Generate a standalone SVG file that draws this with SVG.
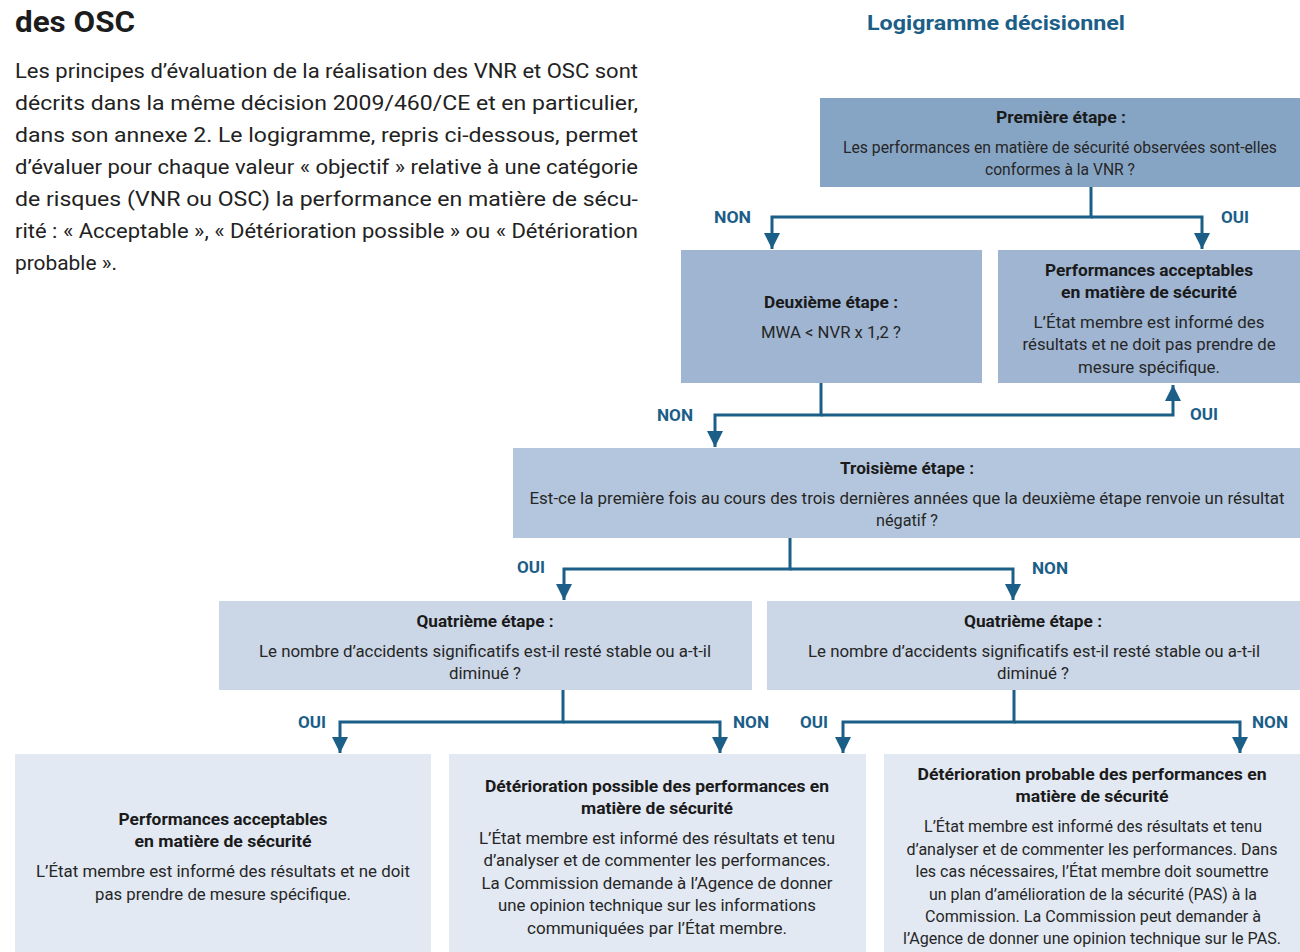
<svg xmlns="http://www.w3.org/2000/svg" width="1300" height="952" viewBox="0 0 1300 952">
<defs>
<style>
.hd{font-family:Roboto,"Liberation Sans",sans-serif;font-weight:700;fill:#1c1c1c}
.tt{font-family:Roboto,"Liberation Sans",sans-serif;font-weight:700;fill:#1b5e88;font-size:21px}
.para{font-family:Roboto,"Liberation Sans",sans-serif;font-size:21px;fill:#222}
.b{font-family:Roboto,"Liberation Sans",sans-serif;font-weight:700;font-size:16px;fill:#1a1a1a;text-anchor:middle}
.t{font-family:Roboto,"Liberation Sans",sans-serif;font-weight:400;font-size:16px;fill:#262626;text-anchor:middle}
.bb{font-family:Roboto,"Liberation Sans",sans-serif;font-weight:700;font-size:17px;fill:#1a1a1a;text-anchor:middle}
.tb{font-family:Roboto,"Liberation Sans",sans-serif;font-weight:400;font-size:17px;fill:#262626;text-anchor:middle}
.lbl{font-family:Roboto,"Liberation Sans",sans-serif;font-weight:700;font-size:17px;fill:#1b5e88}
.c{fill:none;stroke:#1b5e88;stroke-width:3}
.s1{fill:#86a5c5}.s2{fill:#9fb5d2}.s3{fill:#b4c6dd}.s4{fill:#cbd7e7}.s5{fill:#e2e9f3}
</style>
<marker id="ah" markerUnits="userSpaceOnUse" markerWidth="16" markerHeight="18" refX="16" refY="8" orient="auto" viewBox="0 0 16 16">
<path d="M0,0 L16,8 L0,16 z" fill="#1b5e88"/>
</marker>
</defs>
<rect width="1300" height="952" fill="#ffffff"/>

<g id="header">
<text class="hd" x="15" y="32" font-size="30" textLength="120" lengthAdjust="spacingAndGlyphs">des OSC</text>
<text class="tt" x="867" y="30" textLength="258" lengthAdjust="spacingAndGlyphs">Logigramme décisionnel</text>
</g>

<g id="intro">
<text class="para" x="15" y="78" textLength="623" lengthAdjust="spacingAndGlyphs">Les principes d’évaluation de la réalisation des VNR et OSC sont</text>
<text class="para" x="15" y="110" textLength="623" lengthAdjust="spacingAndGlyphs">décrits dans la même décision 2009/460/CE et en particulier,</text>
<text class="para" x="15" y="142" textLength="623" lengthAdjust="spacingAndGlyphs">dans son annexe 2. Le logigramme, repris ci-dessous, permet</text>
<text class="para" x="15" y="174" textLength="623" lengthAdjust="spacingAndGlyphs">d’évaluer pour chaque valeur « objectif » relative à une catégorie</text>
<text class="para" x="15" y="206" textLength="623" lengthAdjust="spacingAndGlyphs">de risques (VNR ou OSC) la performance en matière de sécu-</text>
<text class="para" x="15" y="238" textLength="623" lengthAdjust="spacingAndGlyphs">rité : « Acceptable », « Détérioration possible » ou « Détérioration</text>
<text class="para" x="15" y="270" textLength="102" lengthAdjust="spacingAndGlyphs">probable ».</text>
</g>

<g id="connectors">
<path class="c" d="M1091 187 V217 H772 V249" marker-end="url(#ah)"/>
<path class="c" d="M1091 217 H1202 V249" marker-end="url(#ah)"/>
<path class="c" d="M821 383 V415 H715 V447" marker-end="url(#ah)"/>
<path class="c" d="M821 415 H1173 V385" marker-end="url(#ah)"/>
<path class="c" d="M790 538 V569 H564 V600" marker-end="url(#ah)"/>
<path class="c" d="M790 569 H1013 V600" marker-end="url(#ah)"/>
<path class="c" d="M563 690 V722 H340 V753" marker-end="url(#ah)"/>
<path class="c" d="M563 722 H720 V753" marker-end="url(#ah)"/>
<path class="c" d="M1014 690 V722 H843 V753" marker-end="url(#ah)"/>
<path class="c" d="M1014 722 H1240 V753" marker-end="url(#ah)"/>
<text class="lbl" x="714" y="223" textLength="37" lengthAdjust="spacingAndGlyphs">NON</text>
<text class="lbl" x="1221" y="223" textLength="28" lengthAdjust="spacingAndGlyphs">OUI</text>
<text class="lbl" x="657" y="421" textLength="36" lengthAdjust="spacingAndGlyphs">NON</text>
<text class="lbl" x="1190" y="420" textLength="28" lengthAdjust="spacingAndGlyphs">OUI</text>
<text class="lbl" x="517" y="573" textLength="28" lengthAdjust="spacingAndGlyphs">OUI</text>
<text class="lbl" x="1032" y="574" textLength="36" lengthAdjust="spacingAndGlyphs">NON</text>
<text class="lbl" x="298" y="728" textLength="28" lengthAdjust="spacingAndGlyphs">OUI</text>
<text class="lbl" x="733" y="728" textLength="36" lengthAdjust="spacingAndGlyphs">NON</text>
<text class="lbl" x="800" y="728" textLength="28" lengthAdjust="spacingAndGlyphs">OUI</text>
<text class="lbl" x="1252" y="728" textLength="36" lengthAdjust="spacingAndGlyphs">NON</text>
</g>

<g id="etape1">
<rect class="s1" x="820" y="98" width="480" height="89"/>
<text class="b" x="1061" y="123" textLength="130" lengthAdjust="spacingAndGlyphs">Première étape :</text>
<text class="t" x="1060" y="153" textLength="434" lengthAdjust="spacingAndGlyphs">Les performances en matière de sécurité observées sont-elles</text>
<text class="t" x="1060" y="175" textLength="150" lengthAdjust="spacingAndGlyphs">conformes à la VNR ?</text>
</g>

<g id="etape2">
<rect class="s2" x="681" y="250" width="301" height="133"/>
<text class="b" x="831" y="308" textLength="134" lengthAdjust="spacingAndGlyphs">Deuxième étape :</text>
<text class="t" x="831" y="338" textLength="140" lengthAdjust="spacingAndGlyphs">MWA &lt; NVR x 1,2 ?</text>
</g>

<g id="acceptable1">
<rect class="s2" x="998" y="250" width="302" height="133"/>
<text class="b" x="1149" y="276" textLength="208" lengthAdjust="spacingAndGlyphs">Performances acceptables</text>
<text class="b" x="1149" y="298" textLength="176" lengthAdjust="spacingAndGlyphs">en matière de sécurité</text>
<text class="t" x="1149" y="328" textLength="231" lengthAdjust="spacingAndGlyphs">L’État membre est informé des</text>
<text class="t" x="1149" y="350" textLength="253" lengthAdjust="spacingAndGlyphs">résultats et ne doit pas prendre de</text>
<text class="t" x="1149" y="373" textLength="142" lengthAdjust="spacingAndGlyphs">mesure spécifique.</text>
</g>

<g id="etape3">
<rect class="s3" x="513" y="448" width="787" height="90"/>
<text class="b" x="907" y="474" textLength="134" lengthAdjust="spacingAndGlyphs">Troisième étape :</text>
<text class="t" x="907" y="504" textLength="755" lengthAdjust="spacingAndGlyphs">Est-ce la première fois au cours des trois dernières années que la deuxième étape renvoie un résultat</text>
<text class="t" x="907" y="526" textLength="62" lengthAdjust="spacingAndGlyphs">négatif ?</text>
</g>

<g id="etape4a">
<rect class="s4" x="219" y="601" width="533" height="89"/>
<text class="b" x="485" y="627" textLength="137" lengthAdjust="spacingAndGlyphs">Quatrième étape :</text>
<text class="t" x="485" y="657" textLength="452" lengthAdjust="spacingAndGlyphs">Le nombre d’accidents significatifs est-il resté stable ou a-t-il</text>
<text class="t" x="485" y="679" textLength="72" lengthAdjust="spacingAndGlyphs">diminué ?</text>
</g>

<g id="etape4b">
<rect class="s4" x="767" y="601" width="533" height="89"/>
<text class="b" x="1033" y="627" textLength="138" lengthAdjust="spacingAndGlyphs">Quatrième étape :</text>
<text class="t" x="1034" y="657" textLength="452" lengthAdjust="spacingAndGlyphs">Le nombre d’accidents significatifs est-il resté stable ou a-t-il</text>
<text class="t" x="1033" y="679" textLength="72" lengthAdjust="spacingAndGlyphs">diminué ?</text>
</g>

<g id="acceptable2">
<rect class="s5" x="15" y="754" width="416" height="198"/>
<text class="bb" x="223" y="825" textLength="209" lengthAdjust="spacingAndGlyphs">Performances acceptables</text>
<text class="bb" x="223" y="847" textLength="177" lengthAdjust="spacingAndGlyphs">en matière de sécurité</text>
<text class="tb" x="223" y="877" textLength="374" lengthAdjust="spacingAndGlyphs">L’État membre est informé des résultats et ne doit</text>
<text class="tb" x="223" y="900" textLength="256" lengthAdjust="spacingAndGlyphs">pas prendre de mesure spécifique.</text>
</g>

<g id="deterioration-possible">
<rect class="s5" x="449" y="754" width="417" height="198"/>
<text class="bb" x="657" y="792" textLength="344" lengthAdjust="spacingAndGlyphs">Détérioration possible des performances en</text>
<text class="bb" x="657" y="814" textLength="152" lengthAdjust="spacingAndGlyphs">matière de sécurité</text>
<text class="tb" x="657" y="844" textLength="356" lengthAdjust="spacingAndGlyphs">L’État membre est informé des résultats et tenu</text>
<text class="tb" x="657" y="866" textLength="347" lengthAdjust="spacingAndGlyphs">d’analyser et de commenter les performances.</text>
<text class="tb" x="657" y="889" textLength="351" lengthAdjust="spacingAndGlyphs">La Commission demande à l’Agence de donner</text>
<text class="tb" x="657" y="911" textLength="318" lengthAdjust="spacingAndGlyphs">une opinion technique sur les informations</text>
<text class="tb" x="657" y="934" textLength="260" lengthAdjust="spacingAndGlyphs">communiquées par l’État membre.</text>
</g>

<g id="deterioration-probable">
<rect class="s5" x="884" y="754" width="416" height="198"/>
<text class="bb" x="1092" y="780" textLength="349" lengthAdjust="spacingAndGlyphs">Détérioration probable des performances en</text>
<text class="bb" x="1092" y="802" textLength="153" lengthAdjust="spacingAndGlyphs">matière de sécurité</text>
<text class="tb" x="1093" y="832" textLength="338" lengthAdjust="spacingAndGlyphs">L’État membre est informé des résultats et tenu</text>
<text class="tb" x="1092" y="855" textLength="371" lengthAdjust="spacingAndGlyphs">d’analyser et de commenter les performances. Dans</text>
<text class="tb" x="1092" y="877" textLength="353" lengthAdjust="spacingAndGlyphs">les cas nécessaires, l’État membre doit soumettre</text>
<text class="tb" x="1093" y="900" textLength="328" lengthAdjust="spacingAndGlyphs">un plan d’amélioration de la sécurité (PAS) à la</text>
<text class="tb" x="1093" y="922" textLength="336" lengthAdjust="spacingAndGlyphs">Commission. La Commission peut demander à</text>
<text class="tb" x="1092" y="944" textLength="378" lengthAdjust="spacingAndGlyphs">l’Agence de donner une opinion technique sur le PAS.</text>
</g>
</svg>
